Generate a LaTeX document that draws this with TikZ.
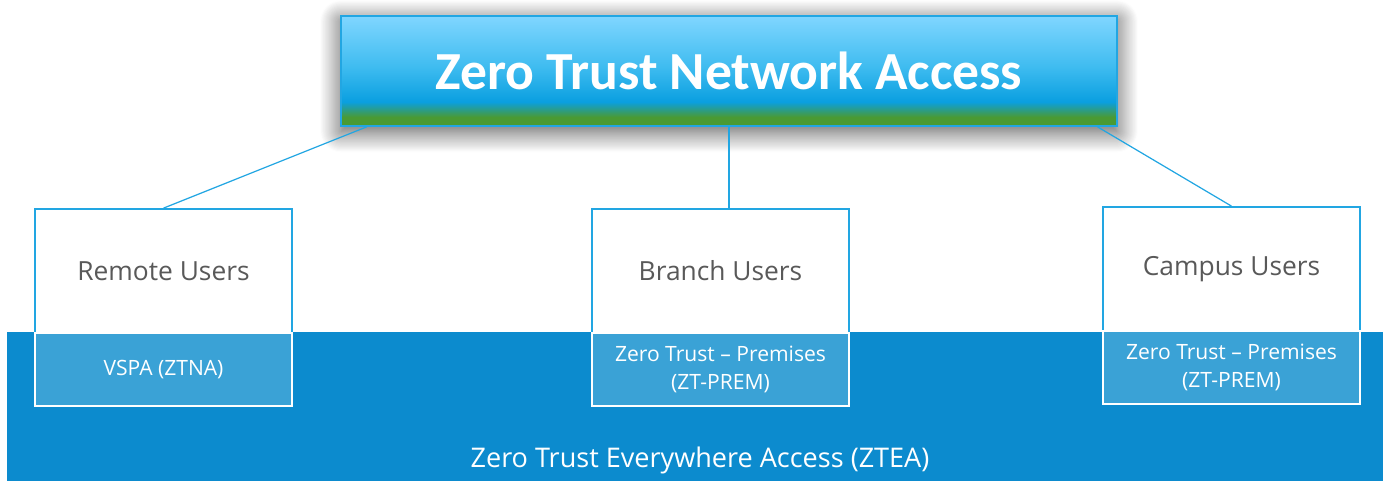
\documentclass[tikz,border=0pt]{standalone}
\usepackage{fontspec}
\setmainfont{Open Sans}
\newfontfamily\titlefont{Carlito}
\usetikzlibrary{calc,shadows.blur}

\definecolor{ztsky}{HTML}{80D6FF}
\definecolor{ztmid}{HTML}{3FBCF0}
\definecolor{ztblue}{HTML}{0A9FE0}
\definecolor{ztgreen}{HTML}{4A9A33}
\definecolor{bandblue}{HTML}{0C8BCE}
\definecolor{premblue}{HTML}{3AA2D6}
\definecolor{edgeblue}{HTML}{22A6E2}
\definecolor{textgray}{HTML}{595959}

\pgfdeclareverticalshading{titleshade}{100bp}{color(0bp)=(ztgreen); color(25bp)=(ztgreen); color(29bp)=(ztgreen); color(36bp)=(ztblue); color(52bp)=(ztmid); color(75bp)=(ztsky); color(100bp)=(ztsky)}

\begin{document}
\begin{tikzpicture}[
  x=0.02cm,
  y=-0.02cm,
  titlebox/.style={
  	shading=titleshade,
  	draw=edgeblue,
  	line width=1pt,
  	minimum width=15.52cm,
  	minimum height=2.2cm,
  	text=white,
  	font=\titlefont\bfseries\fontsize{30.5}{36}\selectfont,
  	blur shadow={shadow xshift=0pt,shadow yshift=-3pt,shadow blur radius=12pt,shadow blur steps=20,shadow opacity=70}
  },
  userbox/.style={
  	fill=white,
  	draw=edgeblue,
  	line width=1pt,
  	minimum width=5.14cm,
  	minimum height=2.48cm,
  	text=textgray,
  	font=\fontsize{15}{18}\selectfont
  },
  prembox/.style={
  	fill=premblue,
  	draw=white,
  	line width=1.2pt,
  	minimum width=5.14cm,
  	minimum height=1.46cm,
  	text=white,
  	align=center,
  	font=\fontsize{12}{16}\selectfont
  },
  link/.style={
  	draw=edgeblue,
  	line width=0.7pt
  }
  ]
  \useasboundingbox (0,0) rectangle (1383,481);
  \fill[bandblue] (7,332) rectangle (1383,481);
  \node[text=white,font=\fontsize{15.4}{18}\selectfont] (ztea) at (700,460) {Zero Trust Everywhere Access (ZTEA)};
  
  \node[titlebox] (ztna) at (729,71) {Zero Trust Network Access};
  
  \foreach \x/\y/\n/\t/\s in {163.5/271/remote/Remote Users/VSPA (ZTNA),
  	720.5/271/branch/Branch Users/{Zero Trust – Premises\\(ZT-PREM)},
  	1231.5/269/campus/Campus Users/{Zero Trust – Premises\\(ZT-PREM)}}
  {
  \node[userbox] (\n) at (\x,\y) {\t};
  \node[prembox] (\n z) at (\x,\y+98.5) {\s};
  }
  
  \draw[link] ($(ztna.south west)!0.034!(ztna.south east)$) -- (remote.north);
  \draw[link] (ztna.south) -- (ztna.south |- branch.north);
  \draw[link] ($(ztna.south west)!0.974!(ztna.south east)$) -- (campus.north);
  
\end{tikzpicture}
\end{document}
